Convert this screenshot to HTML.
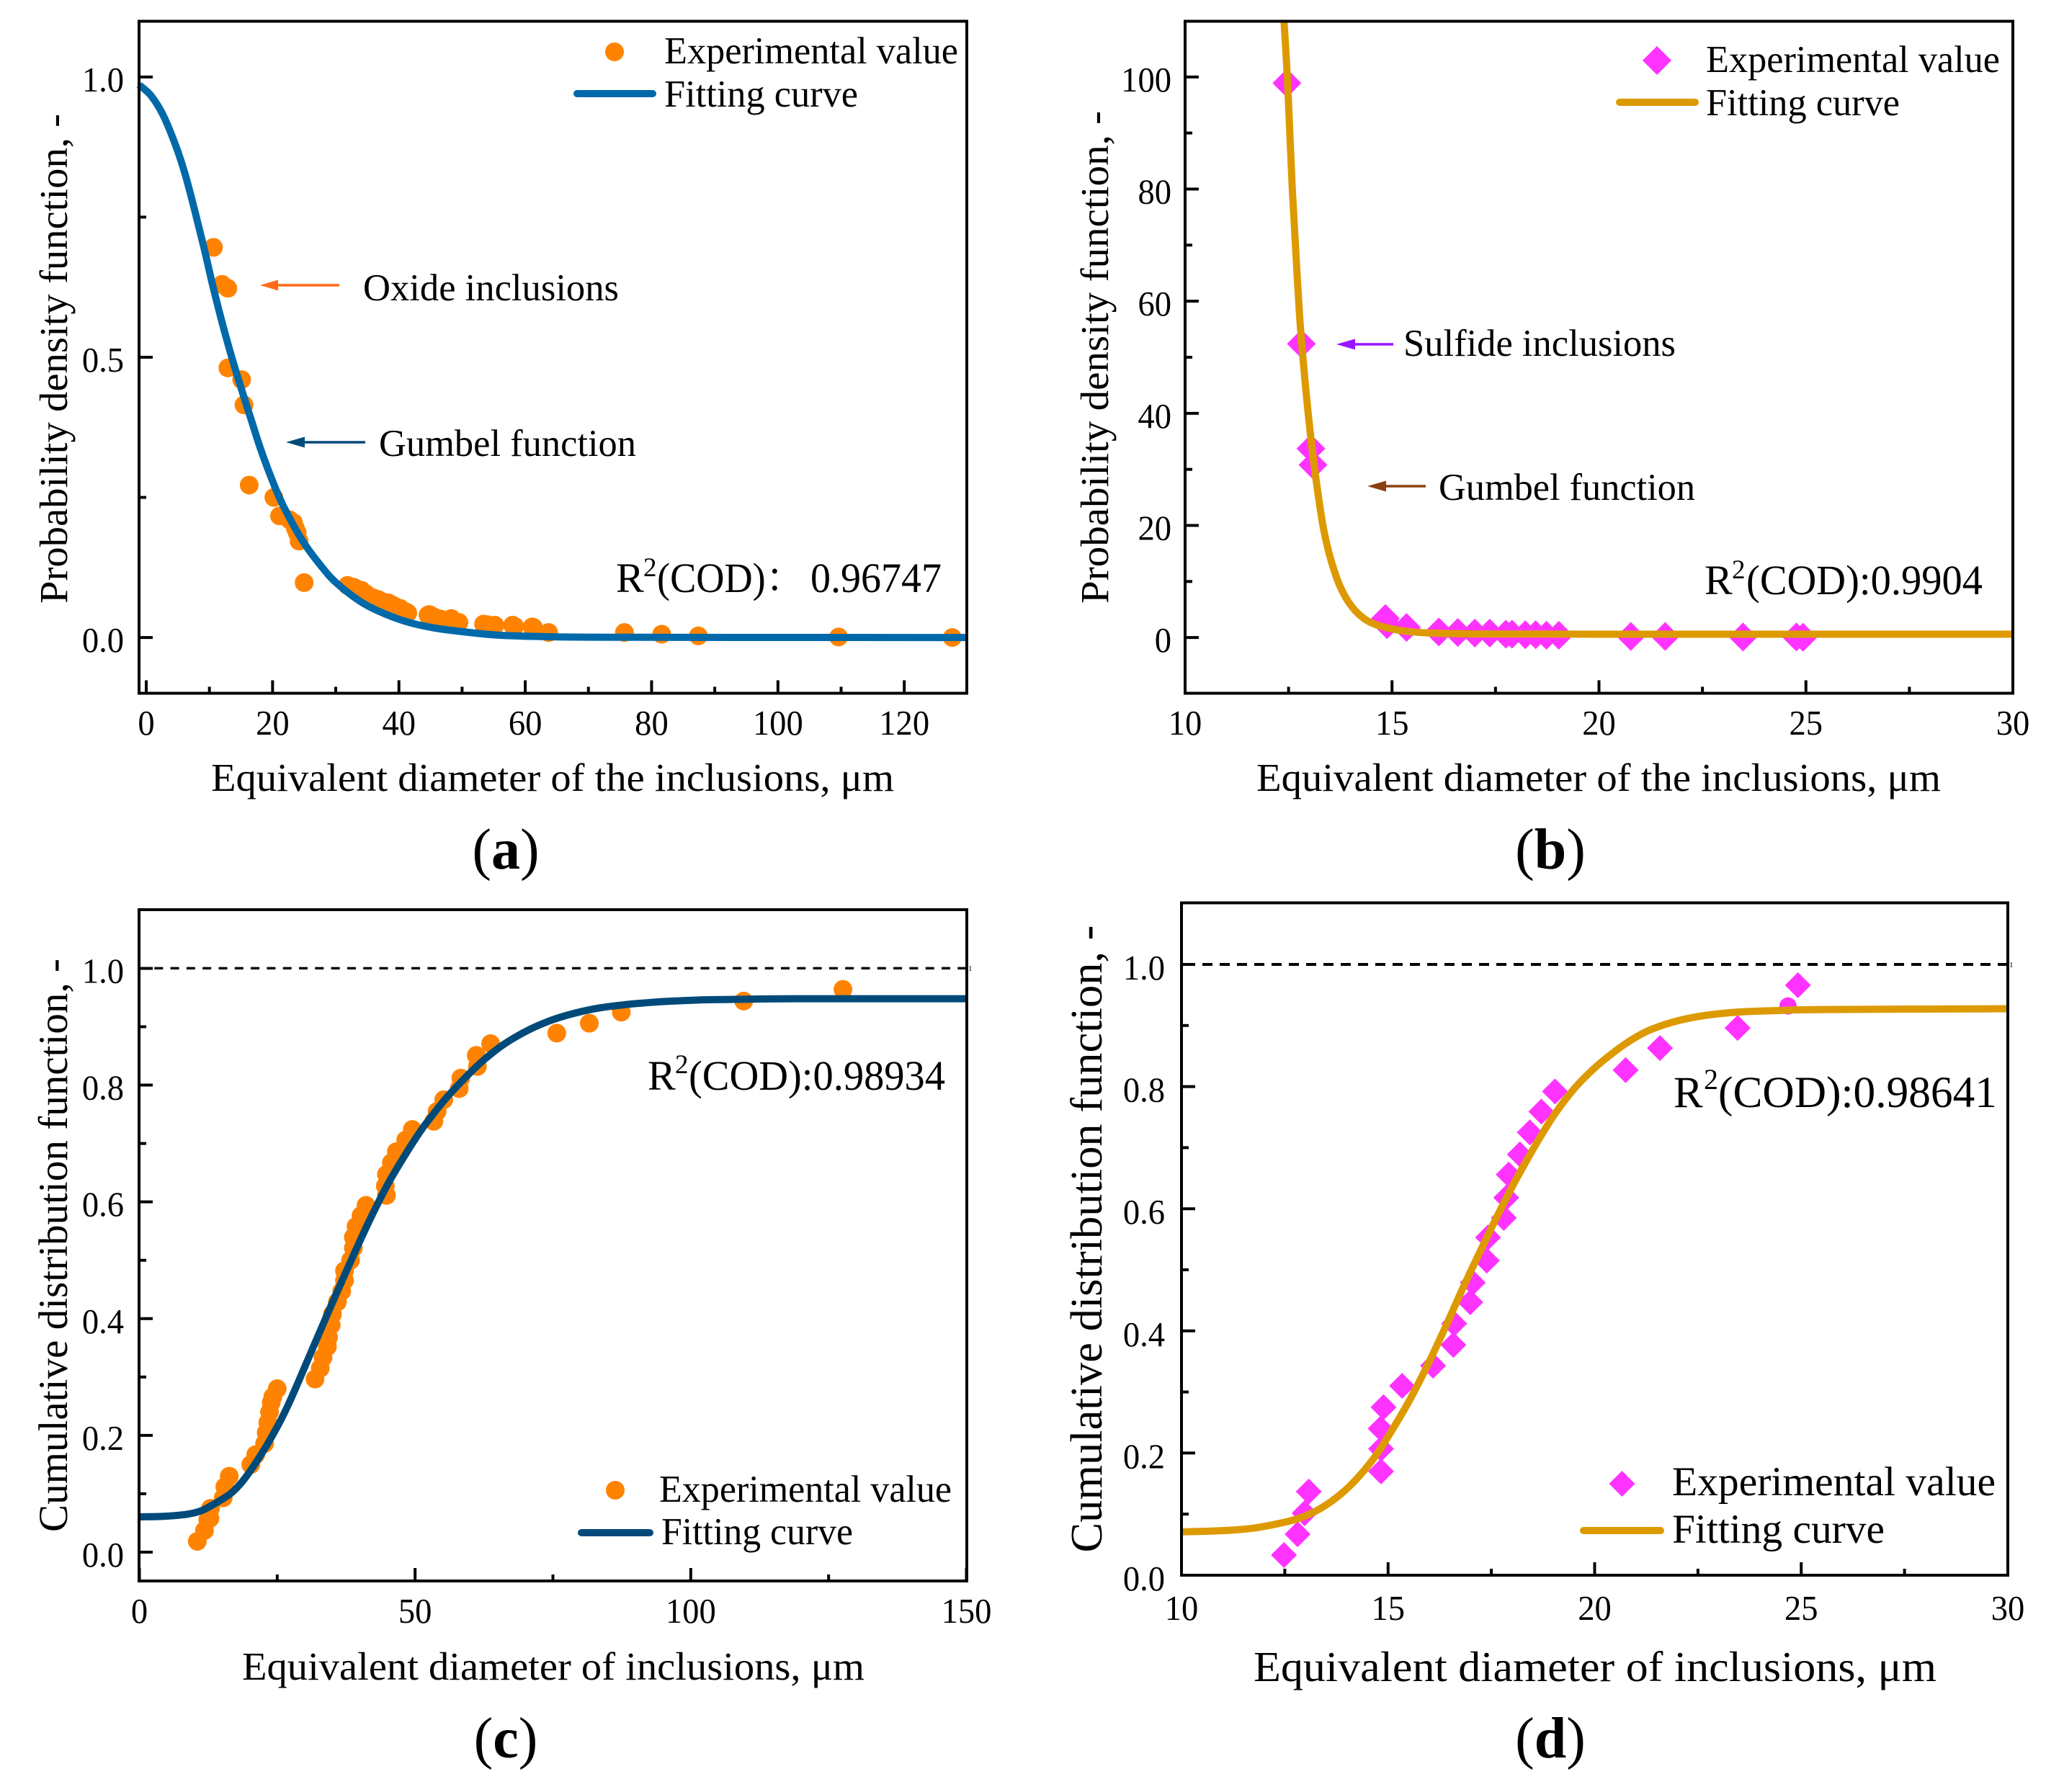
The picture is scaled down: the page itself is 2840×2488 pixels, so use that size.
<!DOCTYPE html>
<html lang="en">
<head>
<meta charset="utf-8">
<title>Inclusion size distribution charts</title>
<style>
html,body{margin:0;padding:0;background:#fff;}
svg{display:block;}
text{font-family:"Liberation Serif","Noto Serif CJK SC",serif;fill:#000;}
.lab{font-size:53px;}
.tick{font-size:49px;}
.ttl{font-size:55px;}
.r2{font-size:58px;}
.cap{font-size:80px;}
.cap .b{font-weight:bold;}
.frame{fill:none;stroke:#000;stroke-width:4;}
.tiny{font-size:11px;}
</style>
</head>
<body>
<svg xmlns="http://www.w3.org/2000/svg" width="2840" height="2488" viewBox="0 0 2840 2488">
<rect x="0" y="0" width="2840" height="2488" fill="#ffffff"/>

<!-- PANEL A -->
<g>
  <g id="marks-a"></g>
  <g id="axes-a"></g>
  <rect class="frame" x="193" y="29.5" width="1149" height="933"/>
  <circle cx="853" cy="72" r="13" fill="#FF8300"/>
  <text class="lab" x="922" y="88" textLength="408" lengthAdjust="spacingAndGlyphs">Experimental value</text>
  <line x1="801" y1="130" x2="906" y2="130" stroke="#0069AA" stroke-width="10" stroke-linecap="round"/>
  <text class="lab" x="922" y="148" textLength="269" lengthAdjust="spacingAndGlyphs">Fitting curve</text>
  <line x1="471" y1="396" x2="375" y2="396" stroke="#FF6A1A" stroke-width="3.4"/>
  <polygon points="361,396 386,388.5 386,403.5" fill="#FF6A1A"/>
  <text class="lab" x="504" y="417" textLength="355" lengthAdjust="spacingAndGlyphs">Oxide inclusions</text>
  <line x1="507" y1="614" x2="412" y2="614" stroke="#004A7A" stroke-width="3.4"/>
  <polygon points="397,614 423,606.5 423,621.5" fill="#004A7A"/>
  <text class="lab" x="526" y="633" textLength="357" lengthAdjust="spacingAndGlyphs">Gumbel function</text>
  <text class="r2"><tspan x="855" y="822">R</tspan><tspan x="893" y="800" font-size="37">2</tspan><tspan x="912" y="822" textLength="205" lengthAdjust="spacingAndGlyphs">(COD)：</tspan><tspan x="1125" y="822" textLength="182" lengthAdjust="spacingAndGlyphs">0.96747</tspan></text>
  <text class="ttl" x="767" y="1098" text-anchor="middle" textLength="948" lengthAdjust="spacingAndGlyphs">Equivalent diameter of the inclusions, μm</text>
  <text class="ttl" transform="translate(93 498) rotate(-90)" text-anchor="middle" textLength="680" lengthAdjust="spacingAndGlyphs">Probability density function, -</text>
  <text class="cap" x="702" y="1206" text-anchor="middle">(<tspan class="b">a</tspan>)</text>
</g>

<!-- PANEL B -->
<g>
  <g id="marks-b"></g>
  <g id="axes-b"></g>
  <rect class="frame" x="1645" y="29.5" width="1149" height="933"/>
  <polygon points="2300,64 2320,84 2300,104 2280,84" fill="#FF33FF"/>
  <text class="lab" x="2368" y="100" textLength="408" lengthAdjust="spacingAndGlyphs">Experimental value</text>
  <line x1="2248" y1="142" x2="2353" y2="142" stroke="#DD9A00" stroke-width="10" stroke-linecap="round"/>
  <text class="lab" x="2368" y="160" textLength="269" lengthAdjust="spacingAndGlyphs">Fitting curve</text>
  <line x1="1934" y1="478" x2="1870" y2="478" stroke="#9A14FF" stroke-width="3.4"/>
  <polygon points="1855,478 1881,470.5 1881,485.5" fill="#9A14FF"/>
  <text class="lab" x="1948" y="494" textLength="378" lengthAdjust="spacingAndGlyphs">Sulfide inclusions</text>
  <line x1="1979" y1="675" x2="1913" y2="675" stroke="#8A4010" stroke-width="3.4"/>
  <polygon points="1898,675 1924,667.5 1924,682.5" fill="#8A4010"/>
  <text class="lab" x="1997" y="694" textLength="356" lengthAdjust="spacingAndGlyphs">Gumbel function</text>
  <text class="r2"><tspan x="2366" y="825">R</tspan><tspan x="2404" y="803" font-size="37">2</tspan><tspan x="2424" y="825" textLength="328" lengthAdjust="spacingAndGlyphs">(COD):0.9904</tspan></text>
  <text class="ttl" x="2219" y="1098" text-anchor="middle" textLength="950" lengthAdjust="spacingAndGlyphs">Equivalent diameter of the inclusions, μm</text>
  <text class="ttl" transform="translate(1538 496) rotate(-90)" text-anchor="middle" textLength="684" lengthAdjust="spacingAndGlyphs">Probability density function, -</text>
  <text class="cap" x="2152" y="1206" text-anchor="middle">(<tspan class="b">b</tspan>)</text>
</g>

<!-- PANEL C -->
<g>
  <line x1="193" y1="1344.3" x2="1342" y2="1344.3" stroke="#000" stroke-width="3.4" stroke-dasharray="12 10.3" stroke-dashoffset="1"/>
  <text class="tiny" x="1344" y="1348">1</text>
  <g id="marks-c"></g>
  <g id="axes-c"></g>
  <rect class="frame" x="193" y="1263" width="1149" height="932"/>
  <circle cx="854" cy="2069" r="13" fill="#FF8300"/>
  <text class="lab" x="915" y="2085" textLength="406" lengthAdjust="spacingAndGlyphs">Experimental value</text>
  <line x1="807" y1="2128" x2="902" y2="2128" stroke="#004A7A" stroke-width="10" stroke-linecap="round"/>
  <text class="lab" x="918" y="2144" textLength="266" lengthAdjust="spacingAndGlyphs">Fitting curve</text>
  <text class="r2"><tspan x="899" y="1513">R</tspan><tspan x="937" y="1490" font-size="37">2</tspan><tspan x="956" y="1513" textLength="356" lengthAdjust="spacingAndGlyphs">(COD):0.98934</tspan></text>
  <text class="ttl" x="768" y="2332" text-anchor="middle" textLength="864" lengthAdjust="spacingAndGlyphs">Equivalent diameter of inclusions, μm</text>
  <text class="ttl" style="font-size:57px" transform="translate(93 1729) rotate(-90)" text-anchor="middle" textLength="796" lengthAdjust="spacingAndGlyphs">Cumulative distribution function, -</text>
  <text class="cap" x="702" y="2440" text-anchor="middle">(<tspan class="b">c</tspan>)</text>
</g>

<!-- PANEL D -->
<g>
  <line x1="1640" y1="1339" x2="2787" y2="1339" stroke="#000" stroke-width="4" stroke-dasharray="14 10" stroke-dashoffset="19"/>
  <text class="tiny" x="2789" y="1343">1</text>
  <g id="marks-d"></g>
  <g id="axes-d"></g>
  <rect class="frame" x="1640" y="1253.5" width="1147" height="933.5"/>
  <polygon points="2251.5,2042 2269.5,2060 2251.5,2078 2233.5,2060" fill="#FF33FF"/>
  <text class="lab" x="2321" y="2076" style="font-size:57px" textLength="449" lengthAdjust="spacingAndGlyphs">Experimental value</text>
  <line x1="2198" y1="2125" x2="2305" y2="2125" stroke="#DD9A00" stroke-width="10" stroke-linecap="round"/>
  <text class="lab" x="2321" y="2142" style="font-size:57px" textLength="295" lengthAdjust="spacingAndGlyphs">Fitting curve</text>
  <text class="r2" style="font-size:61px"><tspan x="2323" y="1537">R</tspan><tspan x="2365" y="1512" font-size="40">2</tspan><tspan x="2385" y="1537" textLength="387" lengthAdjust="spacingAndGlyphs">(COD):0.98641</tspan></text>
  <text class="ttl" style="font-size:59px" x="2214" y="2334" text-anchor="middle" textLength="948" lengthAdjust="spacingAndGlyphs">Equivalent diameter of inclusions, μm</text>
  <text class="ttl" style="font-size:62px" transform="translate(1529 1720) rotate(-90)" text-anchor="middle" textLength="871" lengthAdjust="spacingAndGlyphs">Cumulative distribution function, -</text>
  <text class="cap" x="2152" y="2440" text-anchor="middle">(<tspan class="b">d</tspan>)</text>
</g>
</svg>

<script>
// ---- Panel (a) data ----
const aPointsX = [10.64,12,12.92,12.92,15.1,15.47,16.3,20.2,21.1,22.7,23.3,23.6,23.9,24.2,25,31.85,32.8,33.3,34.1,34.3,34.8,35,35.9,36.7,37.2,37.2,38.3,38.8,38.8,39.3,40.2,41.1,41.4,44.8,44.6,45,45.7,46.6,48.3,49.5,53.4,54,55.2,58,58.3,61.3,61.1,63.7,75.7,81.6,87.4,109.6,127.6];
const aPointsY = [0.696,0.63,0.623,0.481,0.46,0.415,0.272,0.25,0.217,0.21,0.205,0.195,0.187,0.172,0.098,0.093,0.09,0.087,0.084,0.081,0.078,0.076,0.071,0.068,0.065,0.064,0.062,0.059,0.058,0.056,0.052,0.046,0.044,0.041,0.04,0.04,0.036,0.033,0.034,0.027,0.024,0.023,0.022,0.022,0.02,0.018,0.019,0.009,0.009,0.006,0.003,0.001,0];
const aCurveX = [-1.14,0.76,2.66,4.56,6.08,7.6,9.12,10.6,12.16,13.68,15.2,16.53,18.1,20,21.8,24.9,27.9,30.1,33.6,36.6,41,45.4,49.7,55.4,62.9,75,130];
const aCurveY = [0.9859,0.9666,0.9322,0.8808,0.8294,0.7651,0.6963,0.6245,0.5555,0.4945,0.4385,0.3915,0.3365,0.279,0.2325,0.17,0.1245,0.0975,0.0665,0.048,0.029,0.0175,0.011,0.0046,0.0017,0.0005,0];
const aXTicks = [0,20,40,60,80,100,120];
const aXMinor = [10,30,50,70,90,110];
const aYTicks = [0,0.5,1];
const aYTickLabels = ['0.0','0.5','1.0'];
const aYMinor = [0.25,0.75];

// ---- Panel (b) data ----
const bPointsX = [12.46,12.81,13.04,13.09,14.84,14.88,15.35,16.13,16.59,17,17.36,17.75,17.9,18.22,18.47,18.73,19.03,20.77,21.6,23.48,24.77,24.93];
const bPointsY = [98.9,52.4,33.7,30.8,3.4,2.3,1.8,1,0.9,0.8,0.8,0.6,0.6,0.5,0.5,0.4,0.4,0.2,0.2,0.1,0.1,0.05];
const bCurveX = [12.39,12.48,12.59,12.7,12.77,12.84,12.96,13.07,13.19,13.34,13.51,13.74,14.03,14.38,14.79,15.31,15.89,17,20,30];
const bCurveY = [110,98.5,80,65.5,57,50.5,41,33.6,26.8,19.6,14.2,9.2,5.5,3.1,1.9,1.15,0.82,0.65,0.6,0.6];
const bXTicks = [10,15,20,25,30];
const bXMinor = [12.5,17.5,22.5,27.5];
const bYTicks = [0,20,40,60,80,100];
const bYTickLabels = ['0','20','40','60','80','100'];
const bYMinor = [10,30,50,70,90];

// ---- Panel (c) data ----
const cPointsX = [10.5,11.8,12.4,12.8,12.9,15.2,15.5,16.3,20.2,21.1,22.7,23,23.3,23.6,23.9,24.2,25,31.85,32.8,33.3,34.1,34.3,34.8,35,35.9,36.7,37.2,37.2,38.3,38.8,38.8,39.3,40.2,41.1,44.8,44.6,44.8,45.7,46.6,48.3,49.5,53.4,54,55.2,58,58.3,61.3,61.1,63.7,75.7,81.6,87.4,109.6,127.6];
const cPointsY = [0.0185,0.037,0.055,0.058,0.075,0.093,0.112,0.13,0.15,0.167,0.186,0.205,0.222,0.24,0.256,0.266,0.28,0.2965,0.315,0.3335,0.352,0.368,0.389,0.4075,0.4285,0.447,0.4655,0.482,0.5,0.521,0.5395,0.558,0.5765,0.594,0.611,0.627,0.647,0.667,0.686,0.706,0.724,0.738,0.755,0.775,0.794,0.812,0.832,0.851,0.871,0.889,0.906,0.925,0.944,0.964];
const cCurveX = [0,4.36,8.7,11.3,13.9,16.6,18.7,20.9,23.1,25.3,27,28.8,30.5,32.2,34,35.7,38.3,40,42,45,48,51,53.14,55.75,59.7,62.7,66.2,70.6,74.9,79.3,83.6,88,92.4,96.7,103.2,109.8,118.5,150];
const cCurveY = [0.0605,0.0613,0.065,0.0712,0.0843,0.1008,0.1213,0.1501,0.183,0.22,0.2525,0.291,0.3285,0.366,0.4055,0.4425,0.4975,0.533,0.5735,0.6295,0.6775,0.7215,0.7485,0.779,0.8185,0.845,0.8705,0.8945,0.9118,0.9241,0.9324,0.9377,0.9414,0.9439,0.9463,0.947,0.9479,0.948];
const cXTicks = [0,50,100,150];
const cXMinor = [25,75,125];
const cYTicks = [0,0.2,0.4,0.6,0.8,1];
const cYTickLabels = ['0.0','0.2','0.4','0.6','0.8','1.0'];
const cYMinor = [0.1,0.3,0.5,0.7,0.9];

// ---- Panel (d) data ----
const dPointsX = [12.48,12.81,12.98,13.08,14.83,14.83,14.82,14.89,15.34,16.09,16.58,16.6,16.99,17.05,17.39,17.42,17.8,17.86,17.92,18.19,18.43,18.71,19.04,20.75,21.58,23.46,24.92];
const dPointsY = [0.033,0.067,0.1015,0.137,0.17,0.207,0.24,0.275,0.31,0.343,0.377,0.412,0.447,0.479,0.515,0.553,0.585,0.618,0.656,0.689,0.725,0.759,0.792,0.827,0.863,0.896,0.966];
const dRoundX = [24.68];
const dRoundY = [0.932];
const dCurveX = [10,10.58,11.16,11.74,12.32,12.91,13.49,14.07,14.65,15.06,15.52,15.93,16.39,16.8,17.21,17.61,18.02,18.37,18.72,19.07,19.53,20,20.4,20.81,21.28,21.86,22.44,23.02,23.6,24.47,25.35,30];
const dCurveY = [0.0711,0.0719,0.0735,0.077,0.0841,0.0947,0.1144,0.1458,0.191,0.2335,0.2865,0.3405,0.4065,0.4685,0.5275,0.5835,0.638,0.681,0.7215,0.7585,0.7985,0.8305,0.853,0.873,0.891,0.905,0.914,0.9194,0.9225,0.9245,0.926,0.9275];
const dXTicks = [10,15,20,25,30];
const dXMinor = [12.5,17.5,22.5,27.5];
const dYTicks = [0,0.2,0.4,0.6,0.8,1];
const dYTickLabels = ['0.0','0.2','0.4','0.6','0.8','1.0'];
const dYMinor = [0.1,0.3,0.5,0.7,0.9];

const NS = 'http://www.w3.org/2000/svg';

function linearScale(d0, d1, r0, r1) {
  return function (v) { return r0 + (v - d0) * (r1 - r0) / (d1 - d0); };
}

function make(tag, parent) {
  const el = document.createElementNS(NS, tag);
  parent.appendChild(el);
  return el;
}

function smoothPath(xs, ys, sx, sy) {
  const pts = xs.map(function (x, i) { return [sx(x), sy(ys[i])]; });
  let d = 'M' + pts[0][0].toFixed(2) + ' ' + pts[0][1].toFixed(2);
  for (let i = 0; i < pts.length - 1; i++) {
    const p0 = pts[Math.max(i - 1, 0)];
    const p1 = pts[i];
    const p2 = pts[i + 1];
    const p3 = pts[Math.min(i + 2, pts.length - 1)];
    const c1x = p1[0] + (p2[0] - p0[0]) / 6;
    const c1y = p1[1] + (p2[1] - p0[1]) / 6;
    const c2x = p2[0] - (p3[0] - p1[0]) / 6;
    const c2y = p2[1] - (p3[1] - p1[1]) / 6;
    d += 'C' + c1x.toFixed(2) + ' ' + c1y.toFixed(2) + ' ' + c2x.toFixed(2) + ' ' + c2y.toFixed(2) + ' ' + p2[0].toFixed(2) + ' ' + p2[1].toFixed(2);
  }
  return d;
}

function labelWidth(str) {
  // natural width of a digit string in Liberation Serif, slightly condensed like the reference
  let em = 0;
  for (const ch of str) { em += ch === '.' ? 0.25 : 0.5; }
  return em * 49 * 0.95;
}

function drawAxes(id, box, sx, sy, xTicks, xMinor, yTicks, yLabels, yMinor, xBase, yRight, yBaseOff) {
  const g = document.getElementById('axes-' + id);
  xTicks.forEach(function (v) {
    const t = make('line', g);
    
    
    t.setAttribute('x1', sx(v));
    t.setAttribute('x2', sx(v));
    t.setAttribute('y1', box.bottom);
    t.setAttribute('y2', box.bottom - 18);
    t.setAttribute('stroke', '#000');
    t.setAttribute('stroke-width', '4');
    const l = make('text', g);
    
    
    l.setAttribute('class', 'tick');
    l.setAttribute('x', sx(v));
    l.setAttribute('y', xBase);
    l.setAttribute('text-anchor', 'middle');
    l.setAttribute('textLength', labelWidth(String(v)));
    l.setAttribute('lengthAdjust', 'spacingAndGlyphs');
    l.textContent = String(v);
  });
  xMinor.forEach(function (v) {
    const t = make('line', g);
    
    
    t.setAttribute('x1', sx(v));
    t.setAttribute('x2', sx(v));
    t.setAttribute('y1', box.bottom);
    t.setAttribute('y2', box.bottom - 9);
    t.setAttribute('stroke', '#000');
    t.setAttribute('stroke-width', '4');
  });
  yTicks.forEach(function (v, i) {
    const t = make('line', g);
    
    
    t.setAttribute('x1', box.left);
    t.setAttribute('x2', box.left + 19);
    t.setAttribute('y1', sy(v));
    t.setAttribute('y2', sy(v));
    t.setAttribute('stroke', '#000');
    t.setAttribute('stroke-width', '4');
    const l = make('text', g);
    
    
    l.setAttribute('class', 'tick');
    l.setAttribute('x', yRight);
    l.setAttribute('y', sy(v) + yBaseOff);
    l.setAttribute('text-anchor', 'end');
    l.setAttribute('textLength', labelWidth(yLabels[i]));
    l.setAttribute('lengthAdjust', 'spacingAndGlyphs');
    l.textContent = yLabels[i];
  });
  yMinor.forEach(function (v) {
    const t = make('line', g);
    
    
    t.setAttribute('x1', box.left);
    t.setAttribute('x2', box.left + 10);
    t.setAttribute('y1', sy(v));
    t.setAttribute('y2', sy(v));
    t.setAttribute('stroke', '#000');
    t.setAttribute('stroke-width', '4');
  });
}

function drawCircles(id, xs, ys, sx, sy, color, r) {
  const g = document.getElementById('marks-' + id);
  xs.forEach(function (x, i) {
    const c = make('circle', g);
    
    
    c.setAttribute('cx', sx(x));
    c.setAttribute('cy', sy(ys[i]));
    c.setAttribute('r', r);
    c.setAttribute('fill', color);
  });
}

function drawDiamonds(id, xs, ys, sx, sy, h) {
  const g = document.getElementById('marks-' + id);
  xs.forEach(function (x, i) {
    const px = sx(x);
    const py = sy(ys[i]);
    const p = make('polygon', g);
    
    
    p.setAttribute('points', px + ',' + (py - h) + ' ' + (px + h) + ',' + py + ' ' + px + ',' + (py + h) + ' ' + (px - h) + ',' + py);
    p.setAttribute('fill', '#FF33FF');
  });
}

function drawCurve(id, xs, ys, sx, sy, color) {
  const g = document.getElementById('marks-' + id);
  const p = make('path', g);
  
  
  p.setAttribute('d', smoothPath(xs, ys, sx, sy));
  p.setAttribute('fill', 'none');
  p.setAttribute('stroke', color);
  p.setAttribute('stroke-width', '10');
}

const aX = linearScale(-1.14, 129.9, 193, 1342);
const aY = linearScale(-0.1, 1.1, 963, 29);
drawCircles('a', aPointsX, aPointsY, aX, aY, '#FF8300', 13);
drawCurve('a', aCurveX, aCurveY, aX, aY, '#0069AA');
drawAxes('a', {left: 193, bottom: 962.5}, aX, aY, aXTicks, aXMinor, aYTicks, aYTickLabels, aYMinor, 1020, 172, 20);

const bX = linearScale(10, 30, 1645, 2794);
const bY = linearScale(-10, 110, 963, 29);
drawDiamonds('b', bPointsX, bPointsY, bX, bY, 20);
drawCurve('b', bCurveX, bCurveY, bX, bY, '#DD9A00');
drawAxes('b', {left: 1645, bottom: 962.5}, bX, bY, bXTicks, bXMinor, bYTicks, bYTickLabels, bYMinor, 1020, 1626, 20);

const cX = linearScale(0, 150, 193.5, 1341.5);
const cY = linearScale(-0.05, 1.1, 2195.5, 1263.4);
drawCircles('c', cPointsX, cPointsY, cX, cY, '#FF8300', 13);
drawCurve('c', cCurveX, cCurveY, cX, cY, '#004A7A');
drawAxes('c', {left: 193, bottom: 2195}, cX, cY, cXTicks, cXMinor, cYTicks, cYTickLabels, cYMinor, 2253, 172, 20);

const dX = linearScale(10, 30, 1640, 2787);
const dY = linearScale(0, 1.1, 2187, 1254.2);
drawCircles('d', dRoundX, dRoundY, dX, dY, '#FF33FF', 12);
drawDiamonds('d', dPointsX, dPointsY, dX, dY, 18);
drawCurve('d', dCurveX, dCurveY, dX, dY, '#DD9A00');
drawAxes('d', {left: 1640, bottom: 2187}, dX, dY, dXTicks, dXMinor, dYTicks, dYTickLabels, dYMinor, 2249, 1617, 21);
</script>
</body>
</html>
